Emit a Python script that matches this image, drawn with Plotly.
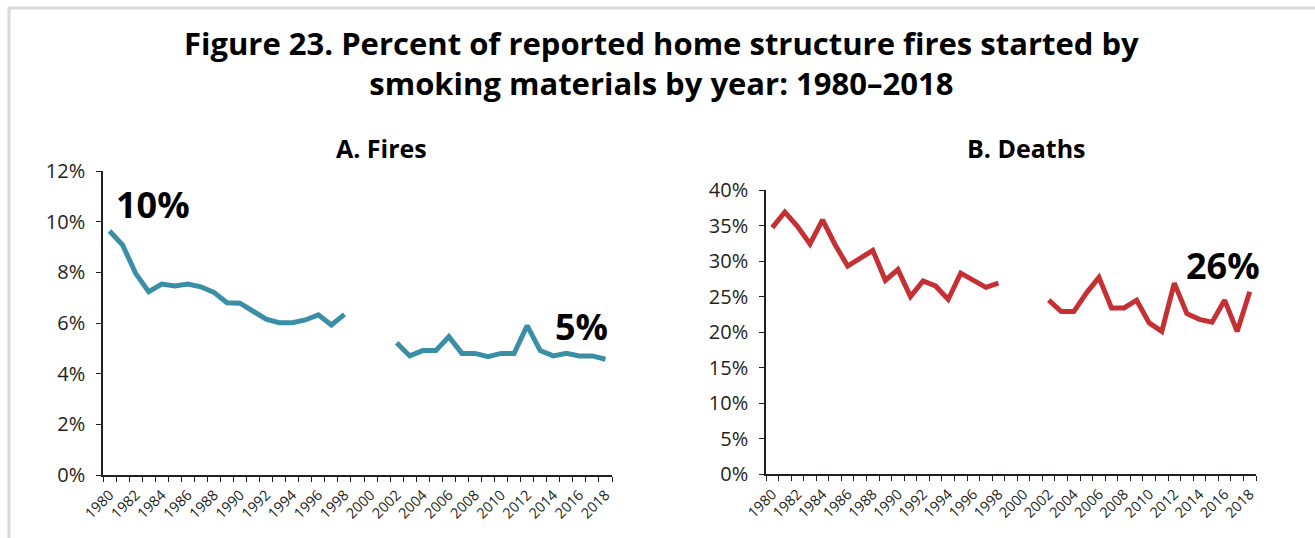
import plotly.graph_objects as go

# Years 1980-2018 (no data for 1999-2001)
years = list(range(1980, 2019))

# Share of reported home structure fires started by smoking materials (%)
fires_pct = [9.63, 9.08, 7.96, 7.24, 7.54, 7.46, 7.54, 7.43, 7.21, 6.80,
             6.78, 6.45, 6.15, 6.01, 6.01, 6.12, 6.32, 5.92, 6.34,
             None, None, None,
             5.22, 4.70, 4.91, 4.91, 5.46, 4.80, 4.80, 4.67, 4.80,
             4.80, 5.90, 4.91, 4.70, 4.80, 4.70, 4.70, 4.57]

# Share of home structure fire deaths from fires started by smoking materials (%)
deaths_pct = [34.7, 36.9, 34.9, 32.4, 35.8, 32.3, 29.3, 30.4, 31.5, 27.3,
              28.8, 25.0, 27.2, 26.5, 24.6, 28.3, 27.2, 26.3, 26.9,
              None, None, None,
              24.5, 22.9, 22.9, 25.5, 27.7, 23.4, 23.4, 24.5, 21.3,
              20.1, 26.9, 22.6, 21.8, 21.4, 24.5, 20.1, 25.7]

year_labels = [str(y) for y in range(1980, 2019, 2)]
fires_ticks = list(range(0, 13, 2))
deaths_ticks = list(range(0, 41, 5))

TEAL = "#3A8FA6"
RED = "#C43033"
W, H = 1315, 538
FONT = "Open Sans, DejaVu Sans, sans-serif"


def px_x(p):
    return p / W


def px_y(p):
    return 1 - p / H


fig = go.Figure()

fig.add_trace(go.Scatter(x=years, y=fires_pct, mode="lines", connectgaps=False,
                         line=dict(color=TEAL, width=5), xaxis="x", yaxis="y",
                         hoverinfo="skip", showlegend=False))
fig.add_trace(go.Scatter(x=years, y=deaths_pct, mode="lines", connectgaps=False,
                         line=dict(color=RED, width=5), xaxis="x2", yaxis="y2",
                         hoverinfo="skip", showlegend=False))

tick_font = dict(family=FONT, size=20, color="#231F20")
xtick_font = dict(family=FONT, size=14.5, color="#231F20")

xaxis_common = dict(
    range=[1979.5, 2018.5],
    tickmode="array",
    tickvals=list(range(1980, 2019, 2)),
    ticktext=year_labels,
    tickangle=-45,
    tickfont=xtick_font,
    ticks="",
    ticklabelstandoff=4,
    showline=True, linecolor="#231F20", linewidth=1.5,
    showgrid=False, zeroline=False, automargin=False,
    minor=dict(tick0=1979.5, dtick=1, ticks="outside", ticklen=5,
               tickwidth=1.2, tickcolor="#231F20", showgrid=False),
    fixedrange=True,
)

yaxis_common = dict(
    tickmode="array",
    ticks="outside", ticklen=5, tickwidth=1.2, tickcolor="#231F20",
    tickfont=tick_font,
    ticklabelstandoff=7,
    showline=True, linecolor="#231F20", linewidth=1.5,
    showgrid=False, zeroline=False, automargin=False,
    fixedrange=True,
)

fig.update_layout(
    width=W, height=H,
    margin=dict(l=0, r=0, t=0, b=0, autoexpand=False),
    paper_bgcolor="white", plot_bgcolor="white",
    xaxis=dict(domain=[px_x(103), px_x(612)], anchor="y", **xaxis_common),
    yaxis=dict(domain=[px_y(475), px_y(171)], anchor="x", range=[0, 12],
               tickvals=fires_ticks, ticktext=[f"{v}%" for v in fires_ticks],
               **yaxis_common),
    xaxis2=dict(domain=[px_x(766), px_x(1256)], anchor="y2", **xaxis_common),
    yaxis2=dict(domain=[px_y(474.3), px_y(190)], anchor="x2", range=[0, 40],
                tickvals=deaths_ticks, ticktext=[f"{v}%" for v in deaths_ticks],
                **yaxis_common),
)

title_font = dict(family=FONT, size=31, color="#000000")
sub_font = dict(family=FONT, size=25, color="#000000")
label_font = dict(family=FONT, size=36, color="#000000")

annotations = [
    dict(text="<b>Figure 23. Percent of reported home structure fires started by</b>"
              "<br><b>smoking materials by year: 1980\u20132018</b>",
         x=px_x(662), y=px_y(63), font=title_font),
    dict(text="<b>A. Fires</b>", x=px_x(381), y=px_y(148), font=sub_font),
    dict(text="<b>B. Deaths</b>", x=px_x(1026), y=px_y(148), font=sub_font),
]
for a in annotations:
    a.update(xref="paper", yref="paper", xanchor="center", yanchor="middle",
             showarrow=False)

# Value callouts for the first and last years
callouts = [
    ("x", "y", 1983.3, 10.66, "10%"),
    ("x", "y", 2016.2, 5.87, "5%"),
    ("x2", "y2", 1984.0, 40.7, "35%"),
    ("x2", "y2", 2015.9, 29.4, "26%"),
]
for xr, yr, xv, yv, txt in callouts:
    annotations.append(dict(text=f"<b>{txt}</b>", x=xv, y=yv, xref=xr, yref=yr,
                            xanchor="center", yanchor="middle", showarrow=False,
                            font=label_font))

fig.update_layout(annotations=annotations)

# Light grey frame along the top and left edges
fig.update_layout(shapes=[
    dict(type="line", xref="paper", yref="paper", x0=px_x(8), x1=1.0,
         y0=px_y(8), y1=px_y(8), line=dict(color="#D9D9D9", width=3)),
    dict(type="line", xref="paper", yref="paper", x0=px_x(9), x1=px_x(9),
         y0=px_y(7), y1=0, line=dict(color="#D9D9D9", width=3)),
])

fig.write_html("out.html")
